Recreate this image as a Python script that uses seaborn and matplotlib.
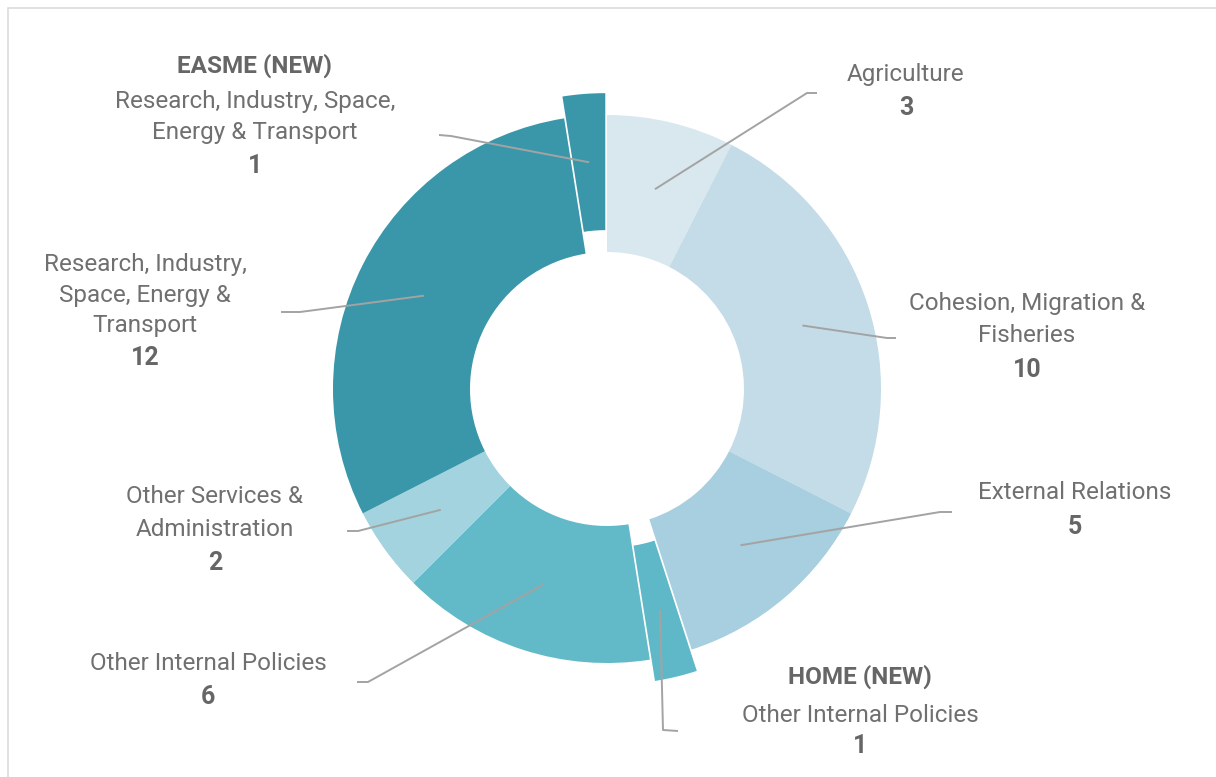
import numpy as np
import matplotlib.pyplot as plt
import seaborn as sns
from matplotlib.patches import Rectangle

sns.set_style("white")
plt.rcParams["font.family"] = ["Roboto", "DejaVu Sans"]

# DATOS
# -----------------------------
categorias = ["Agriculture", "Cohesion, Migration & Fisheries", "External Relations",
              "HOME (NEW)", "Other Internal Policies", "Other Services & Administration",
              "Research, Industry, Space, Energy & Transport", "EASME (NEW)"]
valores = [3, 10, 5, 1, 6, 2, 12, 1]
es_nueva = [False, False, False, True, False, False, False, True]
titulos = ["", "", "", "HOME (NEW)", "", "", "", "EASME (NEW)"]
lineas_etiqueta = [
    ["Agriculture"],
    ["Cohesion, Migration &", "Fisheries"],
    ["External Relations"],
    ["Other Internal Policies"],
    ["Other Internal Policies"],
    ["Other Services &", "Administration"],
    ["Research, Industry,", "Space, Energy &", "Transport"],
    ["Research, Industry, Space,", "Energy & Transport"],
]

colores = ["#d9e8ef", "#c4dce7", "#a7cfdf", "#5fb8c7",
           "#62b9c8", "#a3d3df", "#3a97aa", "#3a97aa"]

# posiciones en pixeles de la imagen: x centro y la y de cada renglon
pos_x = [906, 1027, 1075, 860, 208, 215, 145, 255]
pos_y = [[74, 108], [304, 336, 370], [493, 527], [677, 715, 746],
         [663, 697], [497, 529, 563], [265, 296, 326, 358], [66, 102, 133, 166]]
# codo y final de la linea guia (pixeles)
codo = [(807, 93), (887, 338), (940, 512), (663, 730),
        (368, 682), (358, 531), (300, 312), (451, 136)]
fin = [(817, 93), (896, 338), (952, 512), (678, 731),
       (357, 682), (347, 531), (281, 312), (439, 135)]

CX, CY, R = 607, 389, 274
W, H = 1216, 777


def px(x, y):
    return (x - CX) / R, (CY - y) / R


color_texto = "#707070"
color_numero = "#666666"
color_linea = "#a3a3a3"

# GRAFICO
# -----------------------------
fig = plt.figure(figsize=(W / 100, H / 100), dpi=100)
ax = fig.add_axes([0, 0, 1, 1])

explode = [0.08 if n else 0 for n in es_nueva]
wedges, _ = ax.pie(valores, startangle=90, counterclock=False, colors=colores,
                   explode=explode, radius=1,
                   wedgeprops=dict(width=0.5, linewidth=0))

x0, y0 = px(0, H)
x1, y1 = px(W, 0)
ax.set_xlim(x0, x1)
ax.set_ylim(y0, y1)
ax.set_aspect("equal")
ax.axis("off")

# Marco gris
ax.add_patch(Rectangle(px(8, H + 5), (W - 8 + 10) / R, (H - 8 + 5) / R,
                       fill=False, edgecolor="#dcdcdc", linewidth=1.2))

for i, w in enumerate(wedges):
    ang = np.deg2rad((w.theta1 + w.theta2) / 2)
    cx, cy = w.center
    p_in = (cx + 0.75 * np.cos(ang), cy + 0.75 * np.sin(ang))
    p_codo = px(*codo[i])
    p_fin = px(*fin[i])
    ax.plot([p_in[0], p_codo[0], p_fin[0]], [p_in[1], p_codo[1], p_fin[1]],
            color=color_linea, linewidth=1.4, solid_capstyle="butt")

    ys = list(pos_y[i])
    if titulos[i]:
        ax.text(*px(pos_x[i], ys.pop(0)), titulos[i], ha="center", va="center",
                fontsize=17.5, fontweight="bold", color=color_numero)
    for linea in lineas_etiqueta[i]:
        ax.text(*px(pos_x[i], ys.pop(0)), linea, ha="center", va="center",
                fontsize=17.5, color=color_texto)
    ax.text(*px(pos_x[i], ys.pop(0)), str(valores[i]), ha="center", va="center",
            fontsize=18, fontweight="bold", color=color_numero)

plt.savefig("out.png", dpi=100)
